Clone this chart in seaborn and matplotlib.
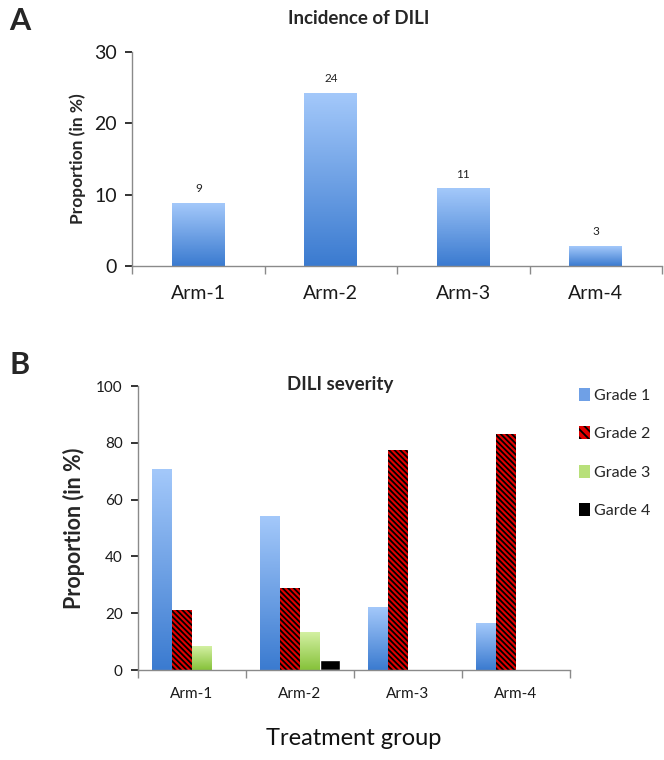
import numpy as np
import pandas as pd
import seaborn as sns
import matplotlib.pyplot as plt
from matplotlib.patches import Patch
from matplotlib.colors import LinearSegmentedColormap

# Panel A data: incidence of DILI per arm
arms = ['Arm-1', 'Arm-2', 'Arm-3', 'Arm-4']
incidence = [8.8, 24.2, 10.8, 2.8]
incidence_labels = ['9', '24', '11', '3']

# Panel B data: severity grades per arm
grades = ['Grade 1', 'Grade 2', 'Grade 3', 'Garde 4']
grade1 = [70.5, 54.0, 22.0, 16.5]
grade2 = [21.0, 29.0, 77.5, 83.0]
grade3 = [8.3, 13.3, 0.0, 0.0]
grade4 = [0.0, 3.5, 0.0, 0.0]

sns.set_theme(style='white')
plt.rcParams['font.family'] = ['Lato', 'DejaVu Sans']
plt.rcParams['hatch.color'] = 'black'
plt.rcParams['hatch.linewidth'] = 1.3

blue_cmap = LinearSegmentedColormap.from_list('b', ['#3b7bd0', '#a3c8fa'])
green_cmap = LinearSegmentedColormap.from_list('g', ['#86c23a', '#d3f0a2'])
grad = np.linspace(0, 1, 100).reshape(-1, 1)


def gradient_fill(ax, patch, cmap):
    x0, y0 = patch.get_x(), patch.get_y()
    w, h = patch.get_width(), patch.get_height()
    if h <= 0:
        return
    ax.imshow(grad, cmap=cmap, origin='lower', aspect='auto',
              extent=(x0, x0 + w, y0, y0 + h), zorder=patch.get_zorder() + 0.1)
    patch.set_alpha(0)


def style_axes(ax):
    sns.despine(ax=ax)
    for s in ['left', 'bottom']:
        ax.spines[s].set_color('#8a8a8a')
        ax.spines[s].set_linewidth(1.0)
    ax.set_xlim(-0.5, 3.5)
    ax.set_xticks([-0.5, 0.5, 1.5, 2.5, 3.5], minor=True)
    ax.tick_params(axis='x', which='major', length=0)
    ax.tick_params(axis='x', which='minor', length=6, color='#8a8a8a', direction='out', bottom=True)
    ax.tick_params(axis='y', length=5, color='#8a8a8a', direction='out', left=True)


fig = plt.figure(figsize=(6.64, 7.6), dpi=100)

# ---- Panel A
axA = fig.add_axes([0.199, 0.65, 0.798, 0.2816])
dfA = pd.DataFrame({'arm': arms, 'value': incidence})
sns.barplot(data=dfA, x='arm', y='value', color='#6fa0e6', width=0.40, ax=axA)
for p, lab in zip(axA.patches, incidence_labels):
    gradient_fill(axA, p, blue_cmap)
    axA.text(p.get_x() + p.get_width() / 2, p.get_height() + 1.3, lab,
             ha='center', va='bottom', fontsize=8.5, color='#222222')
axA.set_ylim(0, 30)
axA.set_yticks([0, 10, 20, 30])
style_axes(axA)
axA.tick_params(axis='both', which='major', labelsize=14, colors='#1a1a1a', pad=6)
axA.tick_params(axis='x', which='major', pad=14)
axA.set_xlabel('')
axA.set_ylabel('Proportion (in %)', fontsize=12.5, fontweight='bold', labelpad=6)
fig.text(0.54, 0.976, 'Incidence of DILI', ha='center', va='center', fontsize=13.5, fontweight='bold')
fig.text(0.014, 0.973, 'A', ha='left', va='center', fontsize=22, fontweight='bold')

# ---- Panel B
axB = fig.add_axes([0.208, 0.1184, 0.650, 0.3736])
dfB = pd.DataFrame({
    'arm': arms * 4,
    'grade': np.repeat(grades, 4),
    'value': grade1 + grade2 + grade3 + grade4,
})
pal = {'Grade 1': '#6fa0e6', 'Grade 2': '#e00000', 'Grade 3': '#b0dc6c', 'Garde 4': '#000000'}
sns.barplot(data=dfB, x='arm', y='value', hue='grade', hue_order=grades,
            palette=pal, width=0.74, ax=axB, legend=False, saturation=1)
for cont, g in zip(axB.containers, grades):
    for p in cont:
        if g == 'Grade 1':
            gradient_fill(axB, p, blue_cmap)
        elif g == 'Grade 3':
            gradient_fill(axB, p, green_cmap)
        elif g == 'Grade 2':
            p.set_hatch('\\' * 6)
            p.set_edgecolor('black')
            p.set_linewidth(0)
axB.set_ylim(0, 100)
axB.set_yticks([0, 20, 40, 60, 80, 100])
style_axes(axB)
axB.tick_params(axis='both', which='major', labelsize=11, colors='#1a1a1a', pad=6)
axB.tick_params(axis='x', which='major', pad=12)
axB.set_xlabel('Treatment group', fontsize=17, labelpad=20, color='#111111')
axB.set_ylabel('Proportion (in %)', fontsize=15.5, fontweight='bold', labelpad=8)
fig.text(0.512, 0.494, 'DILI severity', ha='center', va='center', fontsize=13.5, fontweight='bold')
fig.text(0.014, 0.52, 'B', ha='left', va='center', fontsize=22, fontweight='bold')

handles = [
    Patch(facecolor='#6fa0e6', edgecolor='none'),
    Patch(facecolor='#e00000', edgecolor='black', hatch='\\' * 4, linewidth=0),
    Patch(facecolor='#b8e07a', edgecolor='none'),
    Patch(facecolor='black', edgecolor='none'),
]
fig.legend(handles, grades, loc='upper left', bbox_to_anchor=(0.862, 0.498),
           frameon=False, fontsize=11.5, handlelength=0.7, handleheight=0.9,
           handletextpad=0.25, labelspacing=1.45, borderaxespad=0)

fig.savefig('out.png', dpi=100)
